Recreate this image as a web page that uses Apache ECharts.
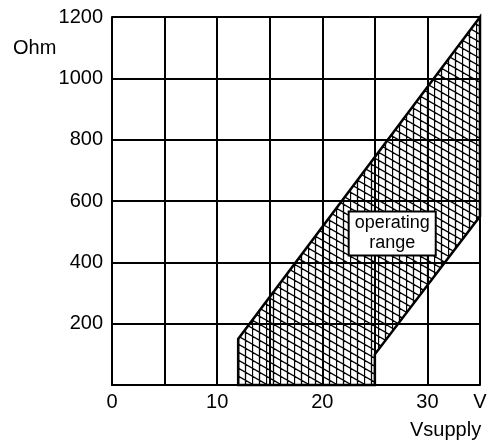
<!DOCTYPE html>
<html><head><meta charset="utf-8">
<script src="https://cdn.jsdelivr.net/npm/echarts@6/dist/echarts.min.js"></script>
<style>html,body{margin:0;padding:0;background:#fff}#c{width:490px;height:445px}</style>
</head><body><div id="c"></div>
<script>
const xTicks = [0, 10, 20, 30];
const xUnit = 'V';
const yTicks = [200, 400, 600, 800, 1000, 1200];
const yName = 'Ohm';
const xName = 'Vsupply';
const regionVolts = [12, 12, 35, 35, 25, 25];
const regionOhms = [0, 150, 1200, 550, 100, 0];
const labelText = ['operating', 'range'];
const labelAt = [26.65, 494];

const FONT = 'Liberation Sans, Arial, sans-serif';

function hatch() {
  const c = document.createElement('canvas');
  c.width = 14; c.height = 8;
  const g = c.getContext('2d');
  g.strokeStyle = '#000';
  g.lineWidth = 1.3;
  g.beginPath();
  g.moveTo(0.5, 0); g.lineTo(0.5, 8);
  g.moveTo(7.5, 0); g.lineTo(7.5, 8);
  for (let k = -2; k <= 2; k++) {
    g.moveTo(-14, -8 + 8 * k);
    g.lineTo(28, 16 + 8 * k);
  }
  g.stroke();
  return c;
}
const pattern = hatch();

const chart = echarts.init(document.getElementById('c'), null, {renderer: 'canvas'});
chart.setOption({
  animation: false,
  backgroundColor: '#fff',
  grid: {left: 112, right: 10, top: 17, bottom: 60},
  xAxis: {
    type: 'value', min: 0, max: 35, interval: 5,
    axisLine: {lineStyle: {color: '#000', width: 2}},
    axisTick: {show: false},
    splitLine: {lineStyle: {color: '#000', width: 2}},
    axisLabel: {
      color: '#000', fontSize: 20, fontFamily: FONT, margin: 7,
      formatter: v => v === 35 ? xUnit : (xTicks.includes(v) ? String(v) : '')
    }
  },
  yAxis: {
    type: 'value', min: 0, max: 1200, interval: 200,
    axisLine: {lineStyle: {color: '#000', width: 2}},
    axisTick: {show: false},
    splitLine: {lineStyle: {color: '#000', width: 2}},
    axisLabel: {
      color: '#000', fontSize: 20, fontFamily: FONT, margin: 9,
      formatter: v => yTicks.includes(v) ? String(v) : ''
    }
  },
  graphic: [
    {type: 'text', left: 13, top: 38, style: {text: yName, fontSize: 20, fontFamily: FONT, fill: '#000'}},
    {type: 'text', left: 410, top: 420, style: {text: xName, fontSize: 20, fontFamily: FONT, fill: '#000'}}
  ],
  series: [
    {
      type: 'custom',
      coordinateSystem: 'cartesian2d',
      silent: true,
      z: 3,
      data: [[regionVolts[0], regionOhms[0]]],
      renderItem: (params, api) => ({
        type: 'polygon',
        shape: {points: regionVolts.map((v, i) => api.coord([v, regionOhms[i]]))},
        style: {fill: {image: pattern, repeat: 'repeat'}, stroke: '#000', lineWidth: 2.5, lineJoin: 'miter'}
      })
    },
    {
      type: 'scatter',
      symbolSize: 0,
      silent: true,
      z: 5,
      itemStyle: {opacity: 1},
      data: [labelAt],
      label: {
        show: true, position: 'inside', opacity: 1,
        formatter: labelText.join('\n'),
        fontSize: 18, lineHeight: 20, fontFamily: FONT, color: '#000',
        backgroundColor: '#fff', borderColor: '#000', borderWidth: 2,
        padding: [1, 5, 1, 5]
      }
    }
  ]
});
</script>
</body></html>
